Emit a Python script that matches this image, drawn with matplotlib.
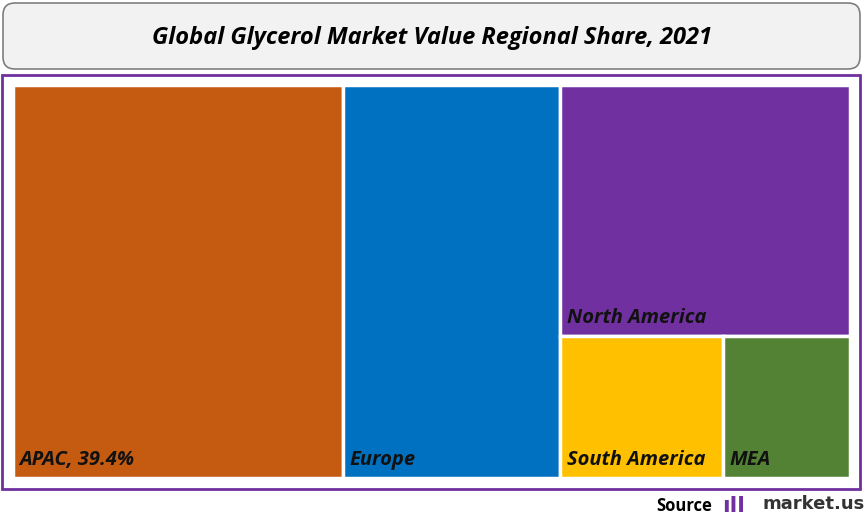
import matplotlib
matplotlib.use("Agg")
import matplotlib.pyplot as plt
from matplotlib.patches import Rectangle, FancyBboxPatch

regions = ["APAC", "Europe", "North America", "South America", "MEA"]
shares = [39.4, 26.0, 22.1, 7.0, 5.5]
labels = ["APAC, 39.4%", "Europe", "North America", "South America", "MEA"]
colors = ["#C55A11", "#0070C0", "#7030A0", "#FFC000", "#548235"]

W, H = 864, 525
fig = plt.figure(figsize=(8.64, 5.25), dpi=100)
fig.patch.set_facecolor("white")

bg = fig.add_axes([0, 0, 1, 1]); bg.set_xlim(0, W); bg.set_ylim(H, 0); bg.axis("off")
bg.add_patch(FancyBboxPatch((3, 3), 857, 66, boxstyle="round,pad=0,rounding_size=12",
                            fc="#F2F2F2", ec="#7F7F7F", lw=1.2))
bg.text(W/2, 38, "Global Glycerol Market Value Regional Share, 2021", ha="center", va="center",
        fontsize=17, fontweight="bold", style="italic", family="Open Sans")
bg.add_patch(Rectangle((2, 75), 858, 414, fc="white", ec="#7030A0", lw=2))
bg.text(712, 506, "Source", ha="right", va="center", fontsize=12, fontweight="bold", family="Open Sans")
bg.text(722, 506, "ıll", ha="left", va="center", fontsize=16, fontweight="bold", color="#7030A0")
bg.text(762, 504, "market.us", ha="left", va="center", fontsize=13, fontweight="bold", color="#333333")

ax = fig.add_axes([13/W, (H-478)/H, 837/W, 393/H])
ax.set_xlim(0, 100); ax.set_ylim(0, 100); ax.axis("off")

total = sum(shares)
rects = []
x = 0
for i in range(2):
    w = shares[i] / total * 100
    rects.append((x, 0, w, 100)); x += w
rest = sum(shares[2:])
wr = rest / total * 100
h_na = shares[2] / rest * 100
rects.append((x, 100 - h_na, wr, h_na))
bottom = shares[3] + shares[4]
w_sa = shares[3] / bottom * wr
rects.append((x, 0, w_sa, 100 - h_na))
rects.append((x + w_sa, 0, wr - w_sa, 100 - h_na))

for (rx, ry, rw, rh), c, lab in zip(rects, colors, labels):
    ax.add_patch(Rectangle((rx, ry), rw, rh, fc=c, ec="white", lw=2.5))
    ax.text(rx + 0.8, ry + 2.0, lab, ha="left", va="bottom", fontsize=14.5,
            fontweight="bold", style="italic", family="Open Sans", color="#111111")

fig.savefig("out.png", dpi=100)
